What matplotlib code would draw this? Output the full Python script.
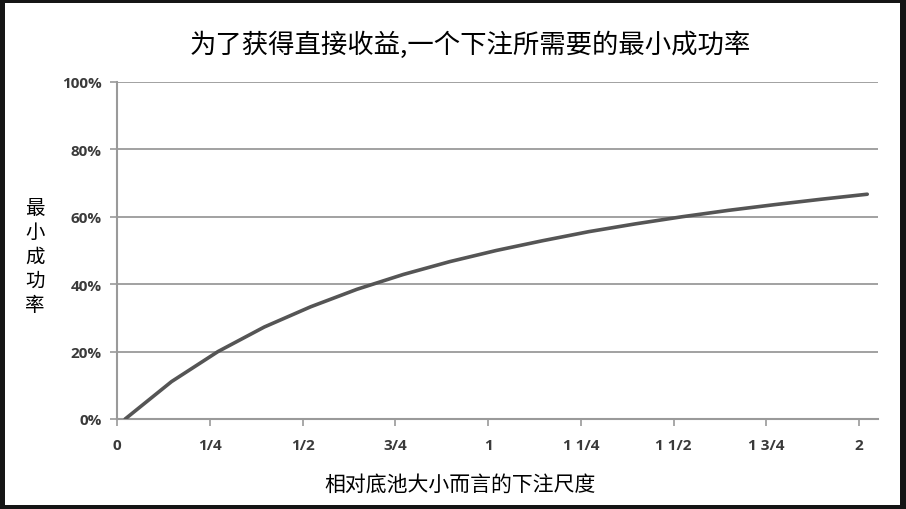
import numpy as np
import matplotlib.pyplot as plt
from matplotlib.patches import Rectangle

plt.rcParams['font.family'] = ['Noto Sans CJK SC', 'DejaVu Sans']

# bet size relative to the pot, and minimum success rate (%)
bet_size = [0, 0.125, 0.25, 0.375, 0.5, 0.625, 0.75, 0.875, 1.0,
            1.125, 1.25, 1.375, 1.5, 1.625, 1.75, 1.875, 2.0]
min_success = [0, 11.1, 20.0, 27.3, 33.3, 38.5, 42.9, 46.7, 50.0,
               52.9, 55.6, 57.9, 60.0, 61.9, 63.6, 65.2, 66.7]

tick_pos = [0, 0.25, 0.5, 0.75, 1.0, 1.25, 1.5, 1.75, 2.0]
tick_labels = ['0', '1/4', '1/2', '3/4', '1', '1 1/4', '1 1/2', '1 3/4', '2']

fig = plt.figure(figsize=(9.06, 5.1), dpi=100, facecolor='#151515')
# white inner panel (dark frame around)
panel = Rectangle((5/906, 4/510), 895/906, 502/510, transform=fig.transFigure,
                  facecolor='white', edgecolor='none', zorder=-10)
fig.add_artist(panel)

ax = fig.add_axes([117/906, 90/510, 761/906, 337/510])
ax.set_facecolor('none')

# Excel-style category offset: the line starts a bit right of the axis
x_shift = 0.022
ax.plot(np.array(bet_size) + x_shift, min_success, color='#555555', lw=2.6,
        solid_capstyle='round', solid_joinstyle='round', zorder=3)

ax.set_xlim(0, 2.051)
ax.set_ylim(0, 100)
ax.set_yticks([0, 20, 40, 60, 80, 100])
ax.set_yticklabels(['0%', '20%', '40%', '60%', '80%', '100%'])
ax.set_xticks(tick_pos)
ax.set_xticklabels(tick_labels)

ax.grid(axis='y', color='#9a9a9a', lw=1.3)
ax.set_axisbelow(True)
for s in ['top', 'right']:
    ax.spines[s].set_visible(False)
for s in ['left', 'bottom']:
    ax.spines[s].set_color('#9a9a9a')
    ax.spines[s].set_linewidth(1.5)
ax.tick_params(axis='both', colors='#9a9a9a', length=5, width=1.2,
               labelcolor='#3a3a3a')
ax.tick_params(axis='x', pad=9)
ax.tick_params(axis='y', pad=6)
for lab in ax.get_xticklabels() + ax.get_yticklabels():
    lab.set_family(['Open Sans', 'DejaVu Sans'])
    lab.set_fontweight('bold')
    lab.set_fontsize(11)

fig.text(470/906, 1 - 45/510, '为了获得直接收益,一个下注所需要的最小成功率',
         ha='center', va='center', fontsize=19, color='black', fontweight='light')
fig.text(460/906, 1 - 485/510, '相对底池大小而言的下注尺度',
         ha='center', va='center', fontsize=15, color='black', fontweight='light')
fig.text(35/906, 1 - 257/510, '\n'.join('最小成功率'),
         ha='center', va='center', fontsize=14, color='black',
         linespacing=1.2, fontweight='light')

fig.savefig('out.png', dpi=100, facecolor=fig.get_facecolor())
